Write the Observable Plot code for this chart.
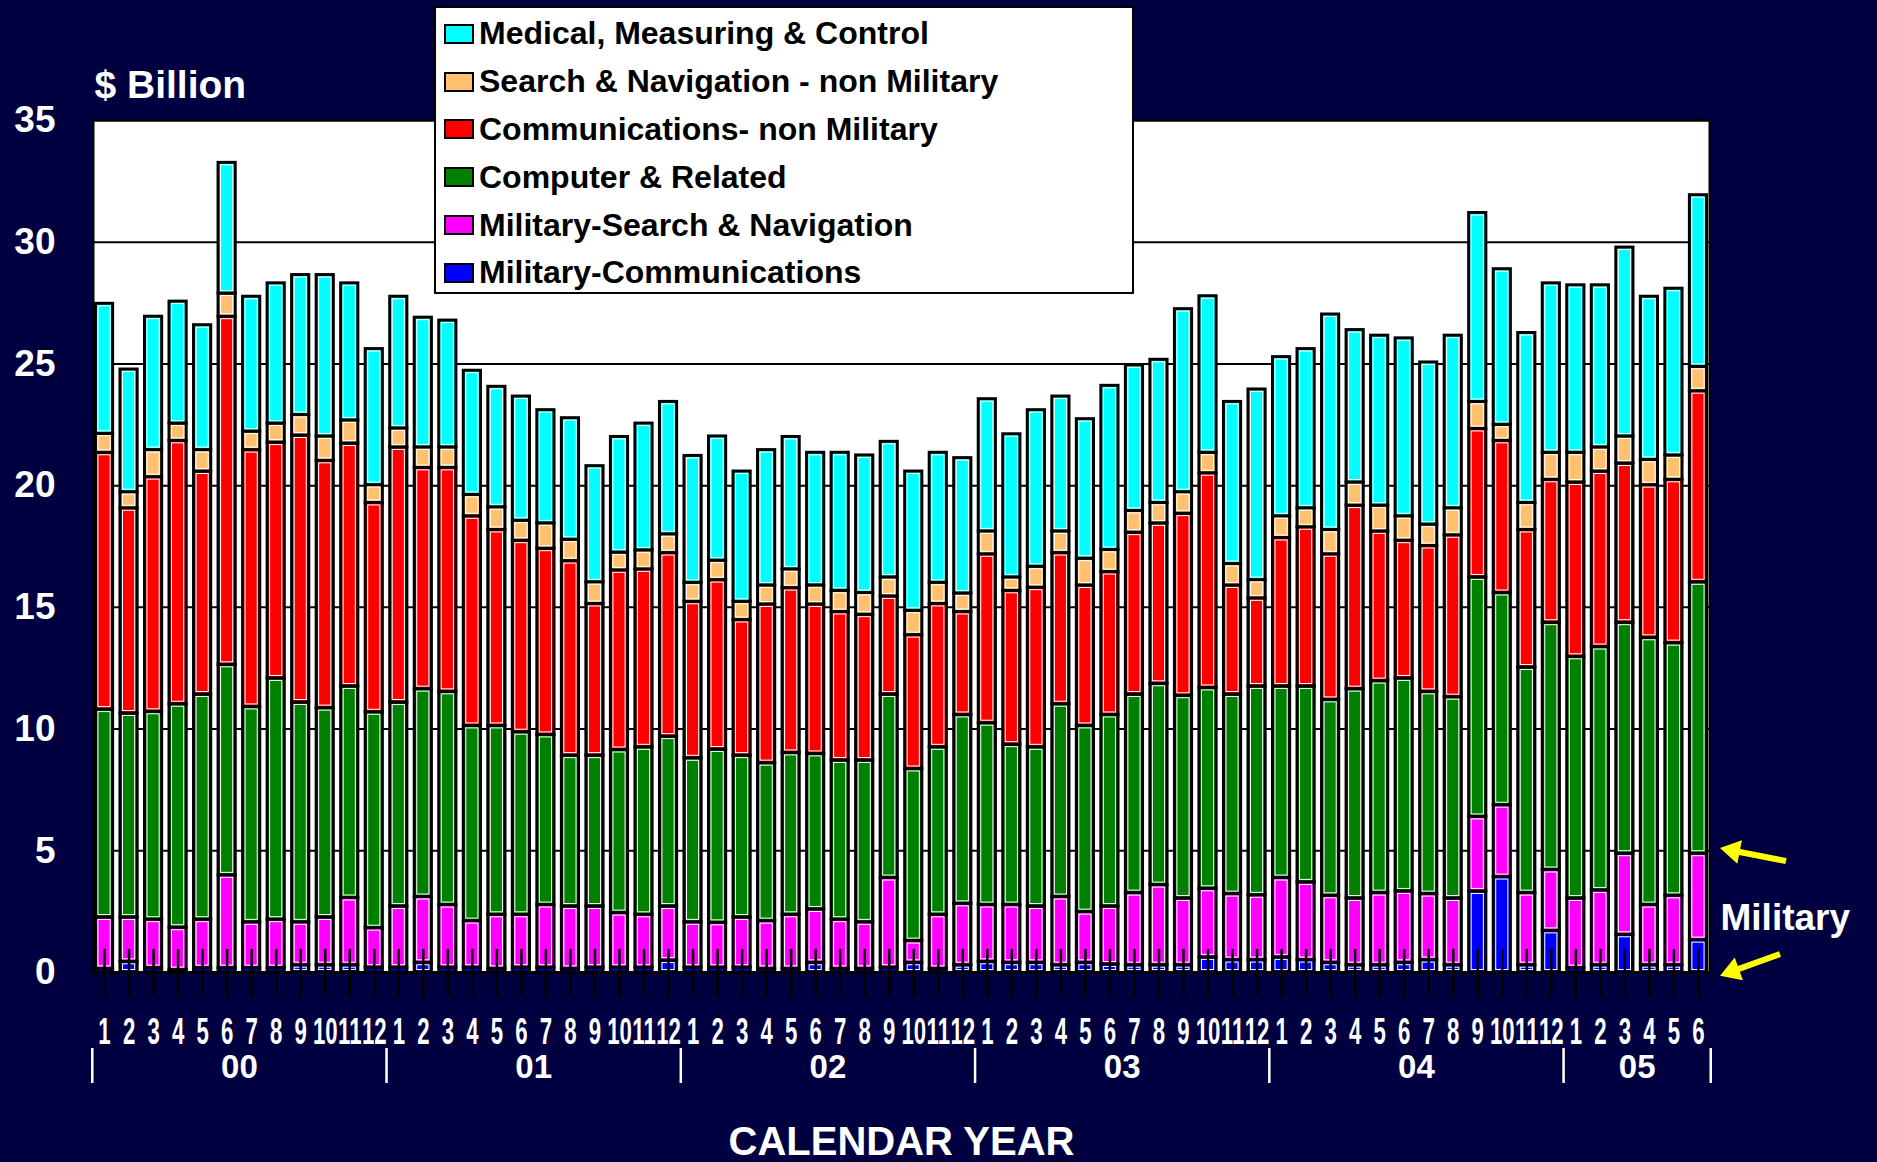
<!DOCTYPE html>
<html><head><meta charset="utf-8">
<script src="https://cdn.jsdelivr.net/npm/d3@7"></script>
<script src="https://cdn.jsdelivr.net/npm/@observablehq/plot@0.6"></script>
<style>
html,body{margin:0;padding:0;background:#000040;}
#wrap{position:relative;width:1877px;height:1162px;overflow:hidden;background:#000040;}
#legend{position:absolute;left:434px;top:6px;width:696px;height:282px;background:#fff;border:2px solid #000;font-family:"Liberation Sans",Arial,sans-serif;font-weight:bold;font-size:32px;color:#000;padding-top:2px;}
#legend .row{height:47.8px;display:flex;align-items:center;white-space:nowrap;}
#legend .sw{width:26px;height:16px;border:2px solid #000;margin-left:8px;margin-right:5px;flex:none;}
</style></head>
<body><div id="wrap"><div id="legend"></div></div>
<script>
const years = ["00","01","02","03","04","05"];
const monthsInYear = [12,12,12,12,12,6];
const seriesNames = ["Military-Communications","Military-Search & Navigation","Computer & Related","Communications- non Military","Search & Navigation - non Military","Medical, Measuring & Control"];
const seriesColors = ["#0000FF","#FF00FF","#008000","#FF0000","#FFC070","#00FFFF"];

const milComm = [0.15,0.44,0.18,0.10,0.18,0.18,0.18,0.18,0.30,0.30,0.30,0.20,
 0.20,0.40,0.20,0.20,0.15,0.20,0.20,0.15,0.20,0.20,0.20,0.49,
 0.20,0.20,0.20,0.15,0.15,0.40,0.15,0.15,0.20,0.40,0.15,0.30,
 0.44,0.40,0.40,0.30,0.40,0.33,0.30,0.30,0.30,0.62,0.51,0.51,
 0.62,0.51,0.40,0.30,0.30,0.40,0.51,0.30,3.33,3.92,0.30,1.71,
 0.18,0.30,1.55,0.30,0.30,1.33];
const milSearch = [2.11,1.82,1.99,1.74,1.99,3.81,1.88,1.99,1.76,1.96,2.76,1.62,
 2.51,2.70,2.57,1.91,2.22,2.17,2.57,2.56,2.51,2.24,2.17,2.22,
 1.86,1.84,2.06,1.96,2.22,2.19,2.02,1.91,3.68,0.89,2.22,2.52,
 2.33,2.37,2.31,2.80,2.08,2.38,2.96,3.29,2.74,2.82,2.71,2.66,
 3.26,3.19,2.75,2.74,2.96,2.93,2.71,2.74,3.06,2.95,2.96,2.50,
 2.86,3.07,3.33,2.47,2.85,3.55];
const computer = [8.54,8.38,8.54,9.18,9.25,8.65,8.85,9.91,9.03,8.60,8.69,8.87,
 8.38,8.54,8.76,8.02,7.76,7.50,6.99,6.20,6.20,6.70,6.88,6.98,
 6.74,7.12,6.65,6.49,6.65,6.39,6.54,6.65,7.54,7.07,6.88,7.76,
 7.47,6.59,6.54,7.92,7.65,7.87,8.16,8.27,8.33,8.25,8.20,8.58,
 7.87,8.05,8.05,8.60,8.71,8.75,8.31,8.27,9.84,8.72,9.27,10.16,
 9.93,10.00,9.49,10.98,10.38,11.15];
const commNonMil = [10.55,8.43,9.64,10.82,9.16,14.30,10.55,9.69,10.97,10.16,9.98,8.60,
 10.48,9.09,9.20,8.61,8.05,7.87,7.65,7.99,6.23,7.38,7.31,7.54,
 6.43,6.96,5.57,6.52,6.77,6.14,6.10,5.99,4.03,5.50,5.89,4.23,
 6.94,6.32,6.56,6.21,5.77,5.87,6.65,6.59,7.48,8.82,4.48,3.62,
 6.10,6.54,5.98,7.54,6.15,5.66,5.99,6.65,6.10,6.25,5.65,5.87,
 7.16,7.21,6.54,6.27,6.71,7.85];
const searchNonMil = [0.78,0.66,1.11,0.71,0.88,0.95,0.76,0.78,0.84,1.00,0.95,0.73,
 0.78,0.84,0.84,0.88,0.93,0.82,1.04,0.88,0.89,0.73,0.78,0.77,
 0.78,0.80,0.75,0.78,0.77,0.78,0.87,0.89,0.78,1.00,0.87,0.76,
 0.94,0.55,0.86,0.89,1.10,0.91,0.89,0.84,0.88,0.84,0.88,0.75,
 0.89,0.78,1.00,0.95,1.06,1.00,0.88,1.11,1.11,0.66,1.11,1.11,
 1.22,0.99,1.11,1.04,1.00,1.00];
const medical = [5.34,5.04,5.48,5.01,5.13,5.37,5.54,5.76,5.75,6.63,5.63,5.59,
 5.41,5.33,5.21,5.10,4.95,5.10,4.65,4.99,4.77,4.75,5.21,5.44,
 5.21,5.10,5.35,5.56,5.44,5.45,5.67,5.65,5.57,5.72,5.34,5.56,
 5.43,5.88,6.43,5.54,5.73,6.74,5.98,5.88,7.52,6.43,6.66,7.83,
 6.54,6.54,8.85,6.26,6.98,7.31,6.66,7.09,7.76,6.39,6.98,6.96,
 6.88,6.66,7.76,6.70,6.85,7.05];

// ---- build table ----
const keys = [], monthLabel = {}, yearStart = [], yearMid = [];
years.forEach((yr, yi) => {
  for (let m = 1; m <= monthsInYear[yi]; m++) {
    const k = `20${yr}-${String(m).padStart(2, "0")}`;
    keys.push(k); monthLabel[k] = String(m);
    if (m === 1) yearStart.push(k);
    if (m === Math.ceil(monthsInYear[yi] / 2)) yearMid.push(k);
  }
});
const seriesValues = [milComm, milSearch, computer, commNonMil, searchNonMil, medical];
const table = [];
seriesValues.forEach((vals, s) => vals.forEach((v, i) => table.push({key: keys[i], series: seriesNames[s], value: v})));

const W = 1877, H = 1162, mL = 93, mR = 168, mT = 120, mB = 190;
const padIn = 0.3, padOut = 0.1;
const step = (W - mL - mR) / (keys.length - padIn + 2 * padOut);
const sans = "'Liberation Sans',Arial,sans-serif";

const chart = Plot.plot({
  width: W, height: H,
  marginLeft: mL, marginRight: mR, marginTop: mT, marginBottom: mB,
  style: {background: "transparent", color: "white", fontFamily: sans, overflow: "visible"},
  x: {domain: keys, paddingInner: padIn, paddingOuter: padOut, axis: null},
  y: {domain: [0, 35], axis: null},
  color: {domain: seriesNames, range: seriesColors},
  marks: [
    Plot.frame({fill: "white", stroke: null}),
    Plot.ruleY(d3.range(5, 36, 5), {stroke: "black", strokeWidth: 2}),
    Plot.barY(table, {x: "key", y: "value", z: "series", fill: "series", stroke: "black", strokeWidth: 3}),
    Plot.barY(table, {x: "key", y: "value", z: "series", fill: "none", stroke: "white", strokeWidth: 1, inset: 2.5}),
    Plot.ruleX(keys, {x: d => d, y1: -1, y2: 0.95, stroke: "black", strokeWidth: 2.5}),
    Plot.ruleY([0], {stroke: "black", strokeWidth: 3}),
    Plot.frame({stroke: "black", strokeWidth: 2}),
    Plot.axisY({ticks: d3.range(0, 36, 5), tickSize: 0, tickPadding: 38, fontSize: 37, fontWeight: "bold", color: "white", label: null}),
    Plot.axisX({tickSize: 0, tickPadding: 45, tickFormat: k => monthLabel[k], fontSize: 37, fontWeight: "bold", color: "white", label: null}),
    Plot.text(years, {x: (d, i) => yearMid[i], text: d => d, frameAnchor: "bottom", dy: 105, dx: step / 2, fontSize: 33, fontWeight: "bold", fill: "white", ariaLabel: "year label"}),
    Plot.ruleX(yearStart, {x: d => d, dx: -step / 2, y1: -3.12, y2: -4.56, stroke: "white", strokeWidth: 2.5}),
    Plot.ruleX([keys[keys.length - 1]], {x: d => d, dx: step / 2, y1: -3.12, y2: -4.56, stroke: "white", strokeWidth: 2.5}),
    Plot.text(["CALENDAR YEAR"], {frameAnchor: "bottom", dy: 182, fontSize: 40, fontWeight: "bold", fill: "white"}),
    Plot.text(["$ Billion"], {frameAnchor: "top-left", textAnchor: "start", dx: 1, dy: -50, fontSize: 39, fontWeight: "bold", fill: "white"}),
    Plot.text(["Military"], {frameAnchor: "bottom-right", textAnchor: "start", dx: 11, dy: -43, fontSize: 37, fontWeight: "bold", fill: "white"})
  ]
});
document.getElementById("wrap").insertBefore(chart, document.getElementById("legend"));
chart.style.position = "absolute"; chart.style.left = "0"; chart.style.top = "0";

// condensed look of the month and year labels (narrow bold face in the original)
function condense(selection, sx) {
  selection.each(function () {
    const t = this.getAttribute("transform");
    if (t) this.setAttribute("transform", t + ` scale(${sx},1)`);
    else {
      const x = +this.getAttribute("x") || 0, y = +this.getAttribute("y") || 0;
      this.removeAttribute("x"); this.removeAttribute("y");
      this.setAttribute("transform", `translate(${x},${y}) scale(${sx},1)`);
    }
  });
}
const svgSel = d3.select(chart);
condense(svgSel.selectAll("g").filter(function () { return /x-axis tick label/.test(this.getAttribute("aria-label") || ""); }).selectAll("text"), 0.6);
condense(svgSel.selectAll('g[aria-label="year label"] text'), 0.72);

// yellow arrows pointing at the military stack, placed with the plot's scales
const ys = chart.scale("y"), xs = chart.scale("x");
const xRight = xs.range[1];
function arrow(head, tail) {
  const w = 6, hw = 24, hl = 20;
  const dx = head[0] - tail[0], dy = head[1] - tail[1], len = Math.hypot(dx, dy);
  const u = [dx / len, dy / len], n = [-u[1], u[0]];
  const B = [head[0] - u[0] * hl, head[1] - u[1] * hl];
  const p = (P, s, k) => [P[0] + n[0] * s * k, P[1] + n[1] * s * k];
  const pts = [p(tail, 1, w / 2), p(B, 1, w / 2), p(B, 1, hw / 2), head, p(B, -1, hw / 2), p(B, -1, w / 2), p(tail, -1, w / 2)];
  svgSel.append("polygon").attr("points", pts.map(q => q.join(",")).join(" ")).attr("fill", "#FFFF00");
}
arrow([xRight + 11, ys.apply(5.09)], [xRight + 77, ys.apply(4.56)]);
arrow([xRight + 11, ys.apply(-0.15)], [xRight + 71, ys.apply(0.74)]);

// legend (top entry = top of the stack)
const legend = d3.select("#legend");
seriesNames.slice().reverse().forEach((name, i) => {
  const row = legend.append("div").attr("class", "row");
  row.append("div").attr("class", "sw").style("background", seriesColors[seriesNames.length - 1 - i]);
  row.append("span").text(name);
});
</script>
</body></html>
